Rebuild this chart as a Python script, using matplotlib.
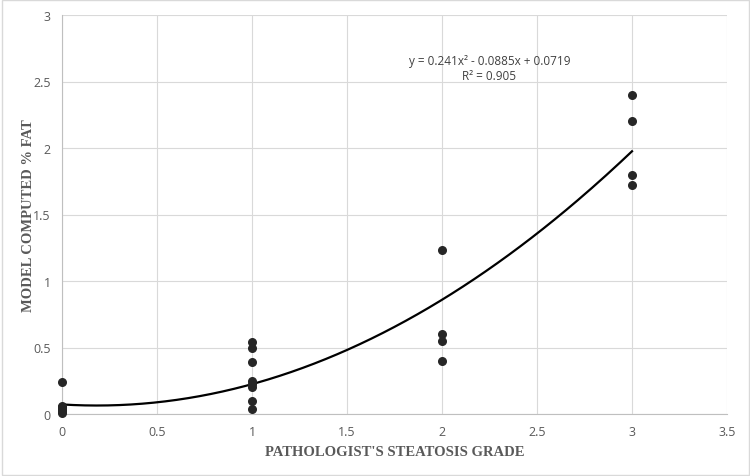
import numpy as np
import matplotlib.pyplot as plt
from matplotlib.patches import Rectangle

# pathologist grade vs model computed fat
grade = [0, 0, 0, 0, 0, 0, 0,
         1, 1, 1, 1, 1, 1, 1, 1,
         2, 2, 2, 2,
         3, 3, 3, 3]
fat = [0.24, 0.06, 0.05, 0.04, 0.03, 0.02, 0.01,
       0.54, 0.50, 0.39, 0.245, 0.225, 0.20, 0.10, 0.04,
       1.23, 0.60, 0.55, 0.40,
       2.40, 2.20, 1.80, 1.72]

coef = [0.241, -0.0885, 0.0719]
r2 = 0.905

xticks = [0, 0.5, 1, 1.5, 2, 2.5, 3, 3.5]
yticks = [0, 0.5, 1, 1.5, 2, 2.5, 3]

fig = plt.figure(figsize=(7.5, 4.77), dpi=100)
ax = fig.add_axes([62 / 750, 62 / 477, 665 / 750, 399 / 477])

ax.scatter(grade, fat, s=30, color='#262626', zorder=3, clip_on=False)
xs = np.linspace(0, 3, 200)
ax.plot(xs, np.polyval(coef, xs), color='black', lw=1.6, zorder=2)

ax.set_xlim(0, 3.5)
ax.set_ylim(0, 3)
ax.set_xticks(xticks)
ax.set_yticks(yticks)
ax.set_xticklabels([f'{t:g}' for t in xticks])
ax.set_yticklabels([f'{t:g}' for t in yticks])
ax.grid(True, color='#d9d9d9', lw=0.8)
ax.set_axisbelow(True)
for s in ['top', 'right']:
    ax.spines[s].set_visible(False)
for s in ['left', 'bottom']:
    ax.spines[s].set_color('#bfbfbf')
ax.tick_params(length=0, labelsize=9, labelcolor='#595959', pad=8)
for lab in ax.get_xticklabels() + ax.get_yticklabels():
    lab.set_fontfamily('Open Sans')

ax.set_xlabel("PATHOLOGIST'S STEATOSIS GRADE", family='Liberation Serif',
              fontweight='bold', fontsize=10.5, color='#595959', labelpad=5)
ax.set_ylabel('MODEL COMPUTED % FAT', family='Liberation Serif',
              fontweight='bold', fontsize=10.5, color='#595959', labelpad=-1)

eq = f'y = {coef[0]}x² - {abs(coef[1])}x + {coef[2]}\nR² = {r2}'
ax.text(2.25, 2.6, eq, ha='center', va='center', fontsize=8.5,
        family='Open Sans', color='#404040', linespacing=1.2)

fig.patches.append(Rectangle((0.002, 0.002), 0.996, 0.996, transform=fig.transFigure,
                             fill=False, edgecolor='#d9d9d9', lw=1))

fig.savefig('out.png', dpi=100)
